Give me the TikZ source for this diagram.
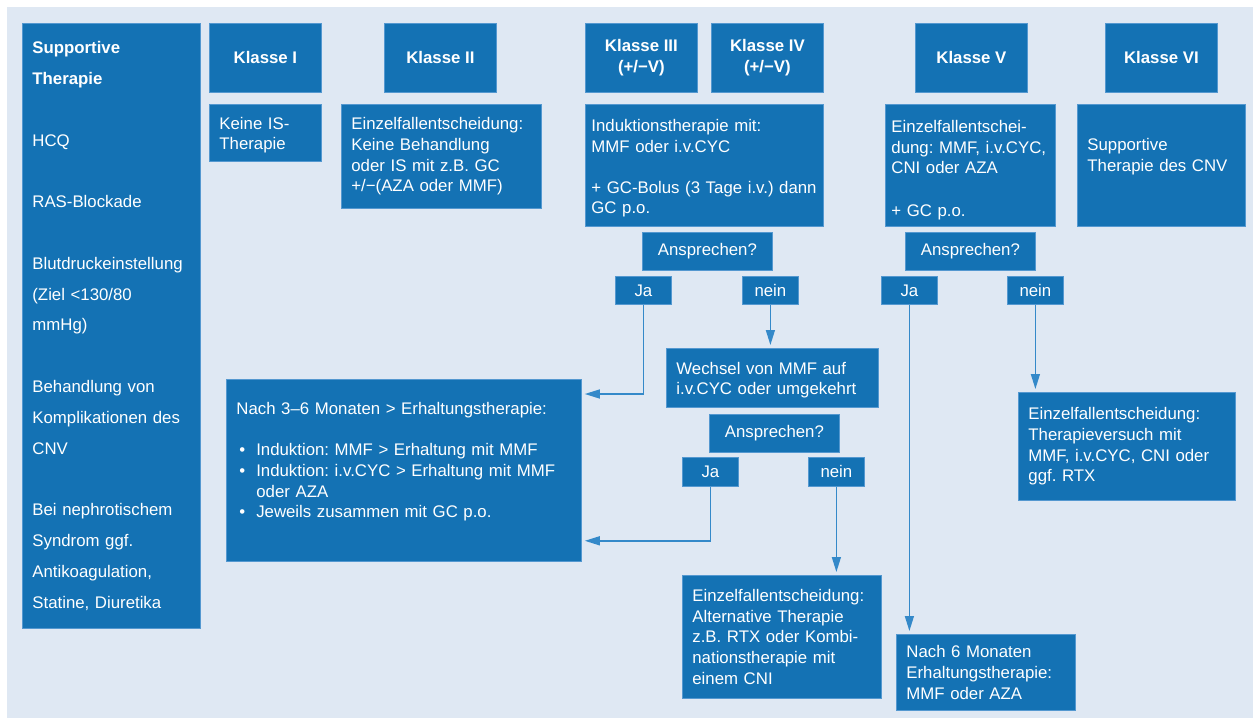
\documentclass[tikz,border=0pt]{standalone}
\usepackage{fontspec}
\setmainfont{Liberation Sans}
\usetikzlibrary{arrows.meta}
\frenchspacing

\definecolor{bgblue}{RGB}{223,232,243}
\definecolor{boxblue}{RGB}{20,114,180}
\definecolor{boxedge}{RGB}{84,152,208}
\definecolor{linkblue}{RGB}{52,137,201}

\newcommand{\bulitem}{\hspace*{3pt}\textbullet\hspace{11pt}}

\tikzset{
  box/.style={draw=boxedge, line width=0.8pt, fill=boxblue, text=white,
    anchor=north west, inner xsep=10pt, inner ysep=0pt, align=left,
    font=\fontsize{16.8}{20.6}\selectfont},
  head/.style={box, align=center, minimum width=112pt, minimum height=69pt,
    font=\bfseries\fontsize{16.8}{21}\selectfont},
  tag/.style={box, align=center, inner xsep=0pt},
  ask/.style={tag, minimum width=130pt, minimum height=38pt},
  answer/.style={tag, minimum width=56pt, minimum height=28pt},
  link/.style={draw=linkblue, line width=1.4pt,
    -{Triangle[length=15pt,width=9pt]}, shorten >=3pt}
}

\begin{document}
\begin{tikzpicture}[x=1pt, y=-1pt]
  \useasboundingbox (0,0) rectangle (1253,718);
  \fill[bgblue] (7,7) rectangle (1253,718);

  % supportive therapy, all classes
  \node[box, text width=158pt, minimum height=605pt,
        font=\fontsize{16.8}{30.8}\selectfont] (supp) at (22,23)
    {\textbf{Supportive}\\ \textbf{Therapie}\\[30.8pt]
     HCQ\\[30.8pt]
     RAS-Blockade\\[30.8pt]
     Blutdruckeinstellung\\ (Ziel <130/80\\ mmHg)\\[30.8pt]
     Behandlung von\\ Komplikationen des\\ CNV\\[30.8pt]
     Bei nephrotischem\\ Syndrom ggf.\\ Antikoagulation,\\ Statine, Diuretika};

  % classes
  \node[head] (k1) at (209,23) {Klasse I};
  \node[head] (k2) at (384,23) {Klasse II};
  \node[head] (k3) at (585,23) {Klasse III\\(+/−V)};
  \node[head] (k4) at (711,23) {Klasse IV\\(+/−V)};
  \node[head] (k5) at (915,23) {Klasse V};
  \node[head] (k6) at (1105,23) {Klasse VI};

  % first therapy
  \node[box, text width=92pt, minimum height=57pt] (keine) at (209,104)
    {\rule{0pt}{17pt}Keine IS-\\ Therapie};
  \node[box, text width=180pt, minimum height=104pt] (einz2) at (341,104)
    {Einzelfallentscheidung:\\ Keine Behandlung\\ oder IS mit z.B. GC\\ +/−(AZA oder MMF)};
  \node[box, inner xsep=6pt, text width=226pt, minimum height=122pt] (induk) at (585,104)
    {\rule{0pt}{18pt}Induktionstherapie mit:\\ MMF oder i.v.CYC\\[20.6pt] + GC-Bolus (3 Tage i.v.) dann\\ GC p.o.};
  \node[box, inner xsep=6pt, text width=158pt, minimum height=122pt] (einz5) at (885,104)
    {\rule{0pt}{22pt}Einzelfallentschei-\\ dung: MMF, i.v.CYC,\\ CNI oder AZA\\[22pt] + GC p.o.};
  \node[box, text width=148pt, minimum height=122pt] (supp6) at (1077,104)
    {Supportive\\ Therapie des CNV\\ \mbox{}};

  % classes III/IV
  \node[ask] (ansp1) at (642,232) {Ansprechen?};
  \node[answer] (ja1) at (615,276) {Ja};
  \node[answer] (nein1) at (742,276) {nein};
  \node[box, text width=192pt, minimum height=59pt] (wechsel) at (666,348)
    {\rule{0pt}{17pt}Wechsel von MMF auf\\ i.v.CYC oder umgekehrt};
  \node[ask] (ansp2) at (709,414) {Ansprechen?};
  \node[answer, minimum height=29pt] (ja2) at (682,457) {Ja};
  \node[answer, minimum height=29pt] (nein2) at (808,457) {nein};
  \node[box, text width=335pt, minimum height=182pt] (nach36) at (226,379)
    {Nach 3–6 Monaten > Erhaltungstherapie:\\[20.6pt]
     \bulitem Induktion: MMF > Erhaltung mit MMF\\
     \bulitem Induktion: i.v.CYC > Erhaltung mit MMF\\
     \hspace*{20pt}oder AZA\\
     \bulitem Jeweils zusammen mit GC p.o.\\ \mbox{}};
  \node[box, text width=179pt, minimum height=123pt] (alt) at (682,575)
    {Einzelfallentscheidung:\\ Alternative Therapie\\ z.B. RTX oder Kombi-\\
     nationstherapie mit\\ einem CNI};

  % class V
  \node[ask] (ansp3) at (905,232) {Ansprechen?};
  \node[answer] (ja3) at (881,276) {Ja};
  \node[answer] (nein3) at (1007,276) {nein};
  \node[box, text width=197pt, minimum height=108pt] (versuch) at (1018,392)
    {Einzelfallentscheidung:\\ Therapieversuch mit\\ MMF, i.v.CYC, CNI oder\\ ggf. RTX};
  \node[box, text width=159pt, minimum height=76pt] (nach6) at (896,634)
    {Nach 6 Monaten\\ Erhaltungstherapie:\\ MMF oder AZA};

  \draw[link] (ja1.south) |- ([yshift=-15pt]nach36.north east);
  \draw[link] (nein1.south) -- (nein1.south |- wechsel.north);
  \draw[link] (ja2.south) |- ([yshift=21pt]nach36.south east);
  \draw[link] (nein2.south) -- (nein2.south |- alt.north);
  \draw[link] (ja3.south) -- (ja3.south |- nach6.north);
  \draw[link] (nein3.south) -- (nein3.south |- versuch.north);
\end{tikzpicture}
\end{document}
